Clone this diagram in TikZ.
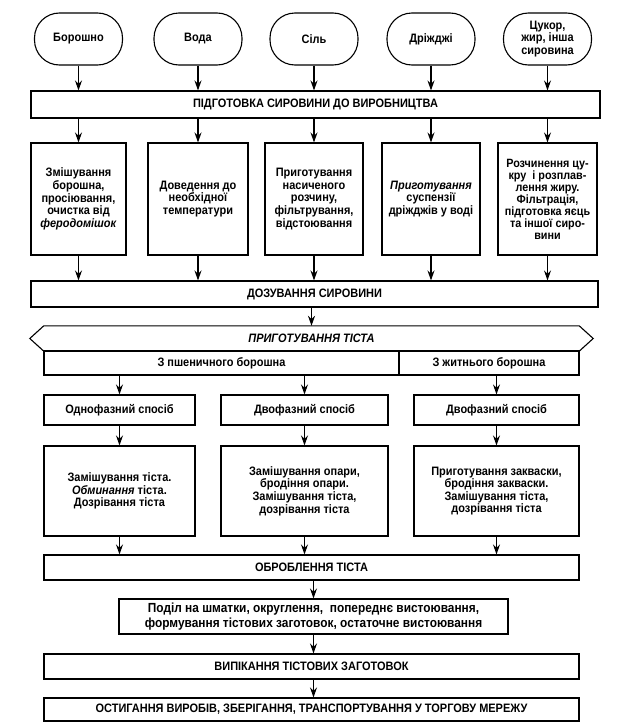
\documentclass[tikz,border=0pt]{standalone}
\usepackage{fontspec}
\setmainfont{Liberation Sans}[FakeStretch=0.9]
\usetikzlibrary{arrows.meta,calc}
\begin{document}
\begin{tikzpicture}[x=1pt,y=-1pt,
  every node/.style={font=\bfseries\fontsize{12.2}{12.6}\selectfont, align=center, inner sep=0pt},
  box/.style={draw, line width=1.1pt},
  oval/.style={draw, line width=1.1pt, rounded corners=25pt, minimum width=88pt, minimum height=52pt},
  arr/.style={-{Stealth[length=10pt,width=7pt]}, line width=1.1pt}]
\useasboundingbox (0,0) rectangle (618,728);
\fill[white] (0,0) rectangle (618,728);
% raw materials
\node[oval] (o1) at (78.5,39) {Борошно};
\node[oval] (o2) at (198,39) {Вода};
\node[oval] (o3) at (314,39) {Сіль};
\node[oval] (o4) at (431,39) {Дріжджі};
\node[oval] (o5) at (547.5,39) {Цукор,\\жир, інша\\сировина};
\node[box, minimum width=569pt, minimum height=27pt] (prep) at (315.5,104.5) {ПІДГОТОВКА СИРОВИНИ ДО ВИРОБНИЦТВА};
% second row
\node[box, minimum width=95pt, minimum height=112pt] (b1) at (78.5,199) {Змішування\\борошна,\\просіювання,\\очистка від\\\textit{феродомішок}};
\node[box, minimum width=100pt, minimum height=112pt] (b2) at (198,199) {Доведення до\\необхідної\\температури};
\node[box, minimum width=98pt, minimum height=112pt] (b3) at (314,199) {Приготування\\насиченого\\розчину,\\фільтрування,\\відстоювання};
\node[box, minimum width=98pt, minimum height=112pt] (b4) at (431,199) {\textit{Приготування}\\суспензії\\дріжджів у воді};
\node[box, minimum width=99pt, minimum height=112pt, font=\bfseries\fontsize{12}{12}\selectfont] (b5) at (547.5,199) {Розчинення цу-\\кру\ \ і розплав-\\лення жиру.\\Фільтрація,\\підготовка яєць\\та іншої сиро-\\вини};
\node[box, minimum width=567pt, minimum height=26pt] (dose) at (314.5,294) {ДОЗУВАННЯ СИРОВИНИ};
% dough
\node[minimum width=535pt, minimum height=25pt] (hex) at (311.5,338.5) {\textit{ПРИГОТУВАННЯ ТІСТА}};
\draw[line width=1.1pt] (hex.north west) -- (hex.north east) -- ($(hex.east)+(14,0)$) -- (hex.south east) -- (hex.south west) -- ($(hex.west)+(-14,0)$) -- cycle;
\node[box, minimum width=355pt, minimum height=24pt] (wheat) at (221.5,363) {З пшеничного борошна};
\node[box, minimum width=180pt, minimum height=24pt] (rye) at (489,363) {З житнього борошна};
\node[box, minimum width=151pt, minimum height=30pt] (m1) at (119.5,410) {Однофазний спосіб};
\node[box, minimum width=167pt, minimum height=30pt] (m2) at (304.5,410) {Двофазний спосіб};
\node[box, minimum width=165pt, minimum height=30pt] (m3) at (496.5,410) {Двофазний спосіб};
\node[box, minimum width=151pt, minimum height=90pt] (d1) at (119.5,491) {Замішування тіста.\\\textit{Обминання} тіста.\\Дозрівання тіста};
\node[box, minimum width=167pt, minimum height=90pt] (d2) at (304.5,491) {Замішування опари,\\бродіння опари.\\Замішування тіста,\\дозрівання тіста};
\node[box, minimum width=165pt, minimum height=90pt] (d3) at (496.5,491) {Приготування закваски,\\бродіння закваски.\\Замішування тіста,\\дозрівання тіста};
\node[box, minimum width=535pt, minimum height=25pt] (proc) at (311.5,567.5) {ОБРОБЛЕННЯ ТІСТА};
\node[box, minimum width=389pt, minimum height=35pt, font=\bfseries\fontsize{13.2}{14.5}\selectfont] (div) at (313.5,616.5) {Поділ на шматки, округлення,\ \ попереднє вистоювання,\\формування тістових заготовок, остаточне вистоювання};
\node[box, minimum width=535pt, minimum height=25pt] (bake) at (311.5,666.5) {ВИПІКАННЯ ТІСТОВИХ ЗАГОТОВОК};
\node[box, minimum width=535pt, minimum height=23pt] (cool) at (311.5,709.5) {ОСТИГАННЯ ВИРОБІВ, ЗБЕРІГАННЯ, ТРАНСПОРТУВАННЯ У ТОРГОВУ МЕРЕЖУ};
% arrows
\foreach \o in {o1,o2,o3,o4,o5} \draw[arr] (\o.south) -- (\o.south |- prep.north);
\foreach \b in {b1,b2,b3,b4,b5} {
  \draw[arr] (\b.north |- prep.south) -- (\b.north);
  \draw[arr] (\b.south) -- (\b.south |- dose.north);
}
\draw[arr] (dose.south -| hex.north) -- (hex.north);
\draw[arr] (wheat.south -| m1.north) -- (m1.north);
\draw[arr] (wheat.south -| m2.north) -- (m2.north);
\draw[arr] (rye.south -| m3.north) -- (m3.north);
\foreach \i in {1,2,3} {
  \draw[arr] (m\i.south) -- (d\i.north);
  \draw[arr] (d\i.south) -- (d\i.south |- proc.north);
}
\draw[arr] (proc.south -| div.north) -- (div.north);
\draw[arr] (div.south) -- (div.south |- bake.north);
\draw[arr] (bake.south -| div.south) -- (cool.north -| div.south);
\end{tikzpicture}
\end{document}
